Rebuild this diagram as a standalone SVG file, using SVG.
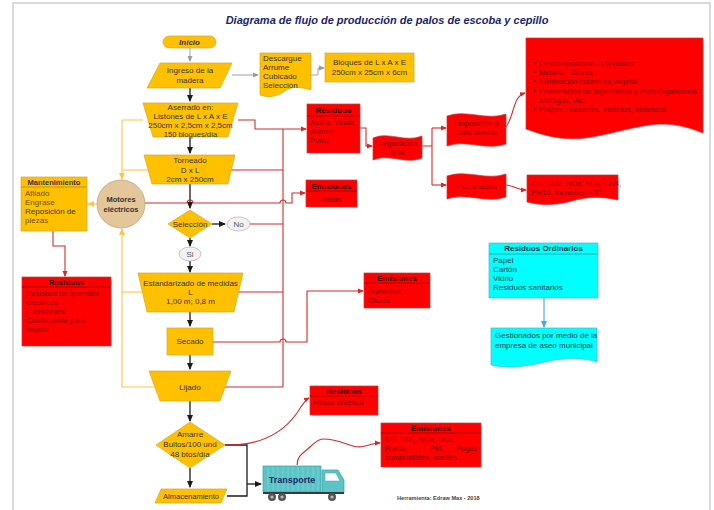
<svg xmlns="http://www.w3.org/2000/svg" width="714" height="510" viewBox="0 0 714 510">
<style>
text{font-family:"Liberation Sans",Arial,sans-serif;font-size:8px;fill:#333}
.c{text-anchor:middle}
.y{fill:#ffc000;stroke:#d4a82e;stroke-width:0.7}
.r{fill:#ff0000;stroke:#c43a3a;stroke-width:0.7}
.cy{fill:#00ffff;stroke:#4fb6c9;stroke-width:0.7}
.rh{fill:#3a0000;font-weight:bold;text-anchor:middle}
.rt{fill:#8a0000;font-size:7.5px}
.lr{fill:none;stroke:#d22a2a;stroke-width:1.1}
.ly{fill:none;stroke:#fdc646;stroke-width:1.1}
.lk{fill:none;stroke:#1a1a1a;stroke-width:1.3}
.lg{fill:none;stroke:#9a9a9a;stroke-width:0.9}
.lc{fill:none;stroke:#3fa9e0;stroke-width:1.1}
</style>
<defs>
<marker id="ak" markerWidth="7" markerHeight="7" refX="6" refY="3.5" orient="auto" markerUnits="userSpaceOnUse"><path d="M0,0.5 L7,3.5 L0,6.5 Z" fill="#1a1a1a"/></marker>
<marker id="ag" markerWidth="6" markerHeight="6" refX="5" refY="3" orient="auto" markerUnits="userSpaceOnUse"><path d="M0,0.5 L6,3 L0,5.5 Z" fill="#9a9a9a"/></marker>
<marker id="ar" markerWidth="6" markerHeight="6" refX="5" refY="3" orient="auto" markerUnits="userSpaceOnUse"><path d="M0,0.5 L6,3 L0,5.5 Z" fill="#d22a2a"/></marker>
<marker id="ay" markerWidth="7" markerHeight="7" refX="6" refY="3.5" orient="auto" markerUnits="userSpaceOnUse"><path d="M0,0.5 L7,3.5 L0,6.5 Z" fill="#fdc646"/></marker>
<marker id="ac" markerWidth="7" markerHeight="7" refX="6" refY="3.5" orient="auto" markerUnits="userSpaceOnUse"><path d="M0,0.5 L7,3.5 L0,6.5 Z" fill="#3fa9e0"/></marker>
</defs>
<rect width="714" height="510" fill="#ffffff"/>
<path d="M13,510 V3 H710 V510" fill="none" stroke="#cfcfcf" stroke-width="1.5"/>
<text x="387" y="24" class="c" style="font-size:11px;font-weight:bold;font-style:italic;fill:#1a2466">Diagrama de flujo de producción de palos de escoba y cepillo</text>

<g id="connectors">
<path class="lg" d="M190,48 V61" marker-end="url(#ag)"/>
<path class="lg" d="M232,75 H258" marker-end="url(#ag)"/>
<path class="lg" d="M311,75 H318 V68 H324" marker-end="url(#ag)"/>
<path class="lk" d="M190,88 V101" marker-end="url(#ak)"/>
<path class="lk" d="M190,137 V153" marker-end="url(#ak)"/>
<path class="lk" d="M190,184 V208" marker-end="url(#ak)"/>
<path class="lk" d="M212,224 H225" marker-end="url(#ak)"/>
<path class="lk" d="M190,238 V246" marker-end="url(#ak)"/>
<path class="lk" d="M190,261 V272" marker-end="url(#ak)"/>
<path class="lk" d="M190,312 V326" marker-end="url(#ak)"/>
<path class="lk" d="M190,355 V369" marker-end="url(#ak)"/>
<path class="lk" d="M190,401 V421" marker-end="url(#ak)"/>
<path class="lk" d="M190,468 V487" marker-end="url(#ak)"/>
<path class="lk" d="M225,445 H247 V496 H227"/>
<path class="lk" d="M247,484 H261" marker-end="url(#ak)"/>
<path class="ly" d="M143,120 H122 V179" marker-end="url(#ay)"/>
<path class="ly" d="M152,170 H122"/>
<path class="ly" d="M142,292 H122"/>
<path class="ly" d="M155,387 H122 V229" marker-end="url(#ay)"/>
<path class="ly" d="M97,204 H88" marker-end="url(#ay)"/>
<path class="lr" d="M238,120 H255 V129 H306" marker-end="url(#ar)"/>
<path class="lr" d="M283,129 V387"/>
<path class="lr" d="M228,170 H283"/>
<path class="lr" d="M145,203 H187 a3,3 0 0 1 6,0 H280 a3,3 0 0 1 6,0 H292 V193 H305" marker-end="url(#ar)"/>
<path class="lr" d="M250,224 H283"/>
<path class="lr" d="M234,292 H283"/>
<path class="lr" d="M213,342 H280 a3,3 0 0 1 6,0 H307 V291 H363" marker-end="url(#ar)"/>
<path class="lr" d="M220,387 H283"/>
<path class="lr" d="M360,128 H366 V146 H372" marker-end="url(#ar)"/>
<path class="lr" d="M422,146 H432 M432,128 V185"/>
<path class="lr" d="M432,128 H446" marker-end="url(#ar)"/>
<path class="lr" d="M432,185 H446" marker-end="url(#ar)"/>
<path class="lr" d="M506,127 C515,115 512,97 525,93" marker-end="url(#ar)"/>
<path class="lr" d="M506,185 C515,186 518,190 526,190" marker-end="url(#ar)"/>
<path class="lr" d="M53,231 V246 H65 V276" marker-end="url(#ar)"/>
<path class="lr" d="M225,445 C265,446 285,430 297,413 C302,405 305,400 309,398" marker-end="url(#ar)"/>
<path class="lr" d="M297,465 C297,455 305,452 310,447 C314,443 318,439 323,439 C345,439 350,450 365,446 C372,444 376,443 380,443" marker-end="url(#ar)"/>
<path class="lc" d="M544,298 V327" marker-end="url(#ac)"/>
</g>

<g id="inicio">
<rect x="163" y="36" width="53" height="12" rx="6" class="y"/>
<text x="189.5" y="45" class="c" style="font-style:italic;font-weight:bold">Inicio</text>
</g>
<g id="ingreso">
<path d="M160,63 H232 L220,88 H147 Z" class="y"/>
<text x="190" y="73" class="c">Ingreso de la</text>
<text x="190" y="83" class="c">madera</text>
</g>
<g id="descargue">
<path d="M260,53 H311 V90 C298,86 290,87 285,91 C277,97 268,98 260,95 Z" class="y"/>
<text x="263" y="61">Descargue</text>
<text x="263" y="70">Arrume</text>
<text x="263" y="79">Cubicado</text>
<text x="263" y="88">Selección</text>
</g>
<g id="bloques">
<rect x="325" y="53" width="89" height="29" class="y"/>
<text x="369.5" y="65" class="c">Bloques de L x A x E</text>
<text x="369.5" y="75" class="c">250cm x 25cm x 6cm</text>
</g>
<g id="aserrado">
<path d="M143,103 H238 L228,137 H153 Z" class="y"/>
<text x="190.5" y="110" class="c">Aserrado en:</text>
<text x="190.5" y="119" class="c">Listones de L x A x E</text>
<text x="190.5" y="128" class="c">250cm x 2,5cm x 2,5cm</text>
<text x="190.5" y="137" class="c" style="font-size:7.5px">150 bloques/día</text>
</g>
<g id="torneado">
<path d="M144,155 H235 L228,184 H152 Z" class="y"/>
<text x="190" y="163" class="c">Torneado</text>
<text x="190" y="173" class="c">D x L</text>
<text x="190" y="182" class="c">2cm x 250cm</text>
</g>
<g id="seleccion">
<path d="M190,210 L212,224 L190,238 L168,224 Z" class="y"/>
<text x="190" y="227" class="c">Selección</text>
</g>
<g id="no">
<ellipse cx="238.5" cy="224" rx="11.5" ry="7" fill="#f2f2f2" stroke="#b0b0b0" stroke-width="0.7"/>
<text x="238.5" y="227" class="c" style="fill:#555">No</text>
</g>
<g id="si">
<ellipse cx="190" cy="254" rx="11" ry="7" fill="#f2f2f2" stroke="#b0b0b0" stroke-width="0.7"/>
<text x="190" y="257" class="c" style="fill:#555">Si</text>
</g>
<g id="estandarizado">
<path d="M138,273 H243 L234,312 H147 Z" class="y"/>
<text x="190.5" y="286" class="c">Estandarizado de medidas</text>
<text x="190.5" y="295" class="c">L</text>
<text x="190.5" y="304" class="c">1,00 m; 0,8 m</text>
</g>
<g id="secado">
<rect x="167" y="328" width="46" height="27" class="y"/>
<text x="190" y="344" class="c">Secado</text>
</g>
<g id="lijado">
<path d="M149,371 H231 L220,401 H160 Z" class="y"/>
<text x="190" y="390" class="c">Lijado</text>
</g>
<g id="amarre">
<path d="M190,422 L225,445 L190,468 L156,445 Z" class="y"/>
<text x="190" y="437" class="c">Amarre</text>
<text x="190" y="447" class="c">Bultos/100 und</text>
<text x="190" y="457" class="c">48 btos/día</text>
</g>
<g id="almacenamiento">
<path d="M161,489 H227 L221,503 H155 Z" class="y"/>
<text x="191" y="499" class="c" style="font-size:7.5px">Almacenamiento</text>
</g>
<g id="motores">
<circle cx="121" cy="204" r="24" fill="#e3c79b" stroke="#c0a57a" stroke-width="0.8"/>
<text x="121" y="202" class="c" style="font-weight:bold;font-size:7.5px">Motores</text>
<text x="121" y="212" class="c" style="font-weight:bold;font-size:7.5px">eléctricos</text>
</g>
<g id="mantenimiento">
<rect x="21" y="177" width="66" height="54" class="y"/>
<line x1="21" y1="187" x2="87" y2="187" stroke="#b38a1a" stroke-width="0.8"/>
<text x="54" y="185" class="c" style="font-weight:bold;font-size:7.5px">Mantenimiento</text>
<text x="25" y="196" style="fill:#6b5200">Afilado</text>
<text x="25" y="205" style="fill:#6b5200">Engrase</text>
<text x="25" y="214">Reposición de</text>
<text x="25" y="223" style="fill:#6b5200">piezas</text>
</g>
<g id="residuos-mant">
<rect x="22" y="277" width="89" height="69" class="r"/>
<line x1="22" y1="287" x2="111" y2="287" stroke="#a00000" stroke-width="0.8"/>
<text x="66.5" y="285" class="rh">Residuos</text>
<text x="26" y="296" class="rt">Residuos de aparatos</text>
<text x="26" y="305" class="rt">eléctricos</text>
<text x="26" y="314" class="rt">Lubricantes</text>
<text x="26" y="323" class="rt">Combustible para</text>
<text x="26" y="332" class="rt">lavado</text>
</g>
<g id="residuos-aserrado">
<rect x="307" y="104" width="53" height="49" class="r"/>
<line x1="307" y1="116" x2="360" y2="116" stroke="#a00000" stroke-width="0.8"/>
<text x="333.5" y="113" class="rh">Residuos</text>
<text x="310" y="125" class="rt">Astilla, Viruta,</text>
<text x="310" y="134" class="rt">Aserrín</text>
<text x="310" y="143" class="rt">Polvo</text>
</g>
<g id="emisiones-ruido">
<rect x="306" y="180" width="51" height="27" class="r"/>
<line x1="306" y1="191" x2="357" y2="191" stroke="#a00000" stroke-width="0.8"/>
<text x="331.5" y="188.5" class="rh">Emisiones</text>
<text x="331.5" y="202" class="c rt">Ruido</text>
</g>
<g id="emisiones-secado">
<rect x="364" y="273" width="66" height="35" class="r"/>
<line x1="364" y1="283" x2="430" y2="283" stroke="#a00000" stroke-width="0.8"/>
<text x="397" y="281" class="rh">Emisiones</text>
<text x="368" y="294" class="rt">Humedad</text>
<text x="368" y="303" class="rt">Olores</text>
</g>
<g id="disposicion-final">
<path d="M373,138 C389,131 405,143 422,136 V158 C406,165 390,153 373,160 Z" class="r"/>
<text x="397.5" y="146" class="c rt">Disposición</text>
<text x="397.5" y="155" class="c rt">final</text>
</g>
<g id="cielo-abierto">
<path d="M447,116 C467,109 486,121 506,114 V144 C486,151 467,139 447,146 Z" class="r"/>
<text x="476.5" y="126" class="c rt">Disposición a</text>
<text x="476.5" y="135" class="c rt">cielo abierto</text>
</g>
<g id="incineracion">
<path d="M447,176 C467,169 486,181 506,174 V197 C486,204 467,192 447,199 Z" class="r"/>
<text x="476.5" y="189" class="c rt">Incineración</text>
</g>
<g id="impactos">
<path d="M526,38 H703 V133 C688,127 670,122 650,125 C615,130 590,142 560,138 C545,136 535,132 526,129 Z" class="r"/>
<g class="rt" style="font-size:7.5px">
<circle cx="535" cy="63" r="1.3" fill="#700000"/><text x="539" y="66" class="rt">Descomposición - Lixiviados</text>
<circle cx="535" cy="72" r="1.3" fill="#700000"/><text x="539" y="75" class="rt">Metano - Olores</text>
<circle cx="535" cy="81" r="1.3" fill="#700000"/><text x="539" y="84" class="rt">Eliminación cobertura vegetal</text>
<circle cx="535" cy="91" r="1.3" fill="#700000"/><text x="539" y="94" class="rt">Proliferación de organismos y microorganismos</text>
<text x="539" y="103" class="rt">xilófagos, etc.</text>
<circle cx="535" cy="109" r="1.3" fill="#700000"/><text x="539" y="112" class="rt">Plagas: Roedores, Insectos, Moluscos</text>
</g>
</g>
<g id="gases">
<path d="M527,175 H618 V200 C600,196 585,197 572,201 C558,205 543,206 527,202 Z" class="r"/>
<text x="531" y="186" class="rt">CO, CO2, NOx, SOx, CH4,</text>
<text x="531" y="195" class="rt">PM10, Incremento T°</text>
</g>
<g id="residuos-hilaza">
<rect x="310" y="386" width="68" height="29" class="r"/>
<line x1="310" y1="396" x2="378" y2="396" stroke="#a00000" stroke-width="0.8"/>
<text x="344" y="394" class="rh">Residuos</text>
<text x="313" y="405" class="rt">Hilaza sintética</text>
</g>
<g id="emisiones-transporte">
<rect x="381" y="423" width="100" height="44" class="r"/>
<line x1="381" y1="433" x2="481" y2="433" stroke="#a00000" stroke-width="0.8"/>
<text x="431" y="431" class="rh">Emisiones</text>
<text x="385" y="442" class="rt">CO, CO<tspan dy="1.5" style="font-size:5px">2</tspan><tspan dy="-1.5">, NOx, SOx,</tspan></text>
<text x="385" y="451" class="rt">Ruido,</text>
<text x="430" y="451" class="rt">PM,</text>
<text x="477" y="451" class="rt" style="text-anchor:end">Fugas</text>
<text x="385" y="460" class="rt">combustibles, aceites</text>
</g>
<g id="transporte">
<rect x="263" y="466" width="58" height="26" fill="#5cc3c6" stroke="#3d9fa3" stroke-width="0.7"/>
<path d="M268,467 V491 M273,467 V491 M278,467 V491 M283,467 V491 M288,467 V491 M293,467 V491 M298,467 V491 M303,467 V491 M308,467 V491 M313,467 V491 M318,467 V491" stroke="#7fd3d6" stroke-width="0.8"/>
<path d="M322,470 H338 L344,480 V493 H322 Z" fill="#5cc3c6" stroke="#3d9fa3" stroke-width="0.7"/>
<path d="M325,473 H336 L340,481 H325 Z" fill="#ffffff" stroke="#3d9fa3" stroke-width="0.5"/>
<rect x="263" y="492" width="81" height="2" fill="#3a3a3a"/>
<circle cx="272" cy="497" r="4" fill="#555"/><circle cx="272" cy="497" r="1.6" fill="#bbb"/>
<circle cx="282" cy="497" r="4" fill="#555"/><circle cx="282" cy="497" r="1.6" fill="#bbb"/>
<circle cx="332" cy="497" r="4" fill="#555"/><circle cx="332" cy="497" r="1.6" fill="#bbb"/>
<text x="292" y="483" class="c" style="font-weight:bold;font-size:9px;fill:#1b2a6b">Transporte</text>
</g>
<g id="residuos-ordinarios">
<rect x="489" y="243" width="109" height="55" class="cy"/>
<line x1="489" y1="254" x2="598" y2="254" stroke="#4a8a9a" stroke-width="0.8"/>
<text x="543.5" y="251" class="c" style="font-weight:bold;fill:#1d2d3d">Residuos Ordinarios</text>
<text x="493" y="263" style="fill:#1d3b3b">Papel</text>
<text x="493" y="272" style="fill:#1d3b3b">Cartón</text>
<text x="493" y="281" style="fill:#1d3b3b">Vidrio</text>
<text x="493" y="290" style="fill:#1d3b3b">Residuos sanitarios</text>
</g>
<g id="gestion">
<path d="M491,328 H597 V362 C580,357 562,358 545,362 C525,367 507,369 491,365 Z" class="cy"/>
<text x="495" y="338" style="fill:#1d3b3b">Gestionados por medio de la</text>
<text x="495" y="348" style="fill:#1d3b3b">empresa de aseo municipal</text>
</g>
<text x="397" y="500" style="font-size:5.6px;font-weight:bold;fill:#444">Herramienta: Edraw Max - 2018</text>
</svg>
